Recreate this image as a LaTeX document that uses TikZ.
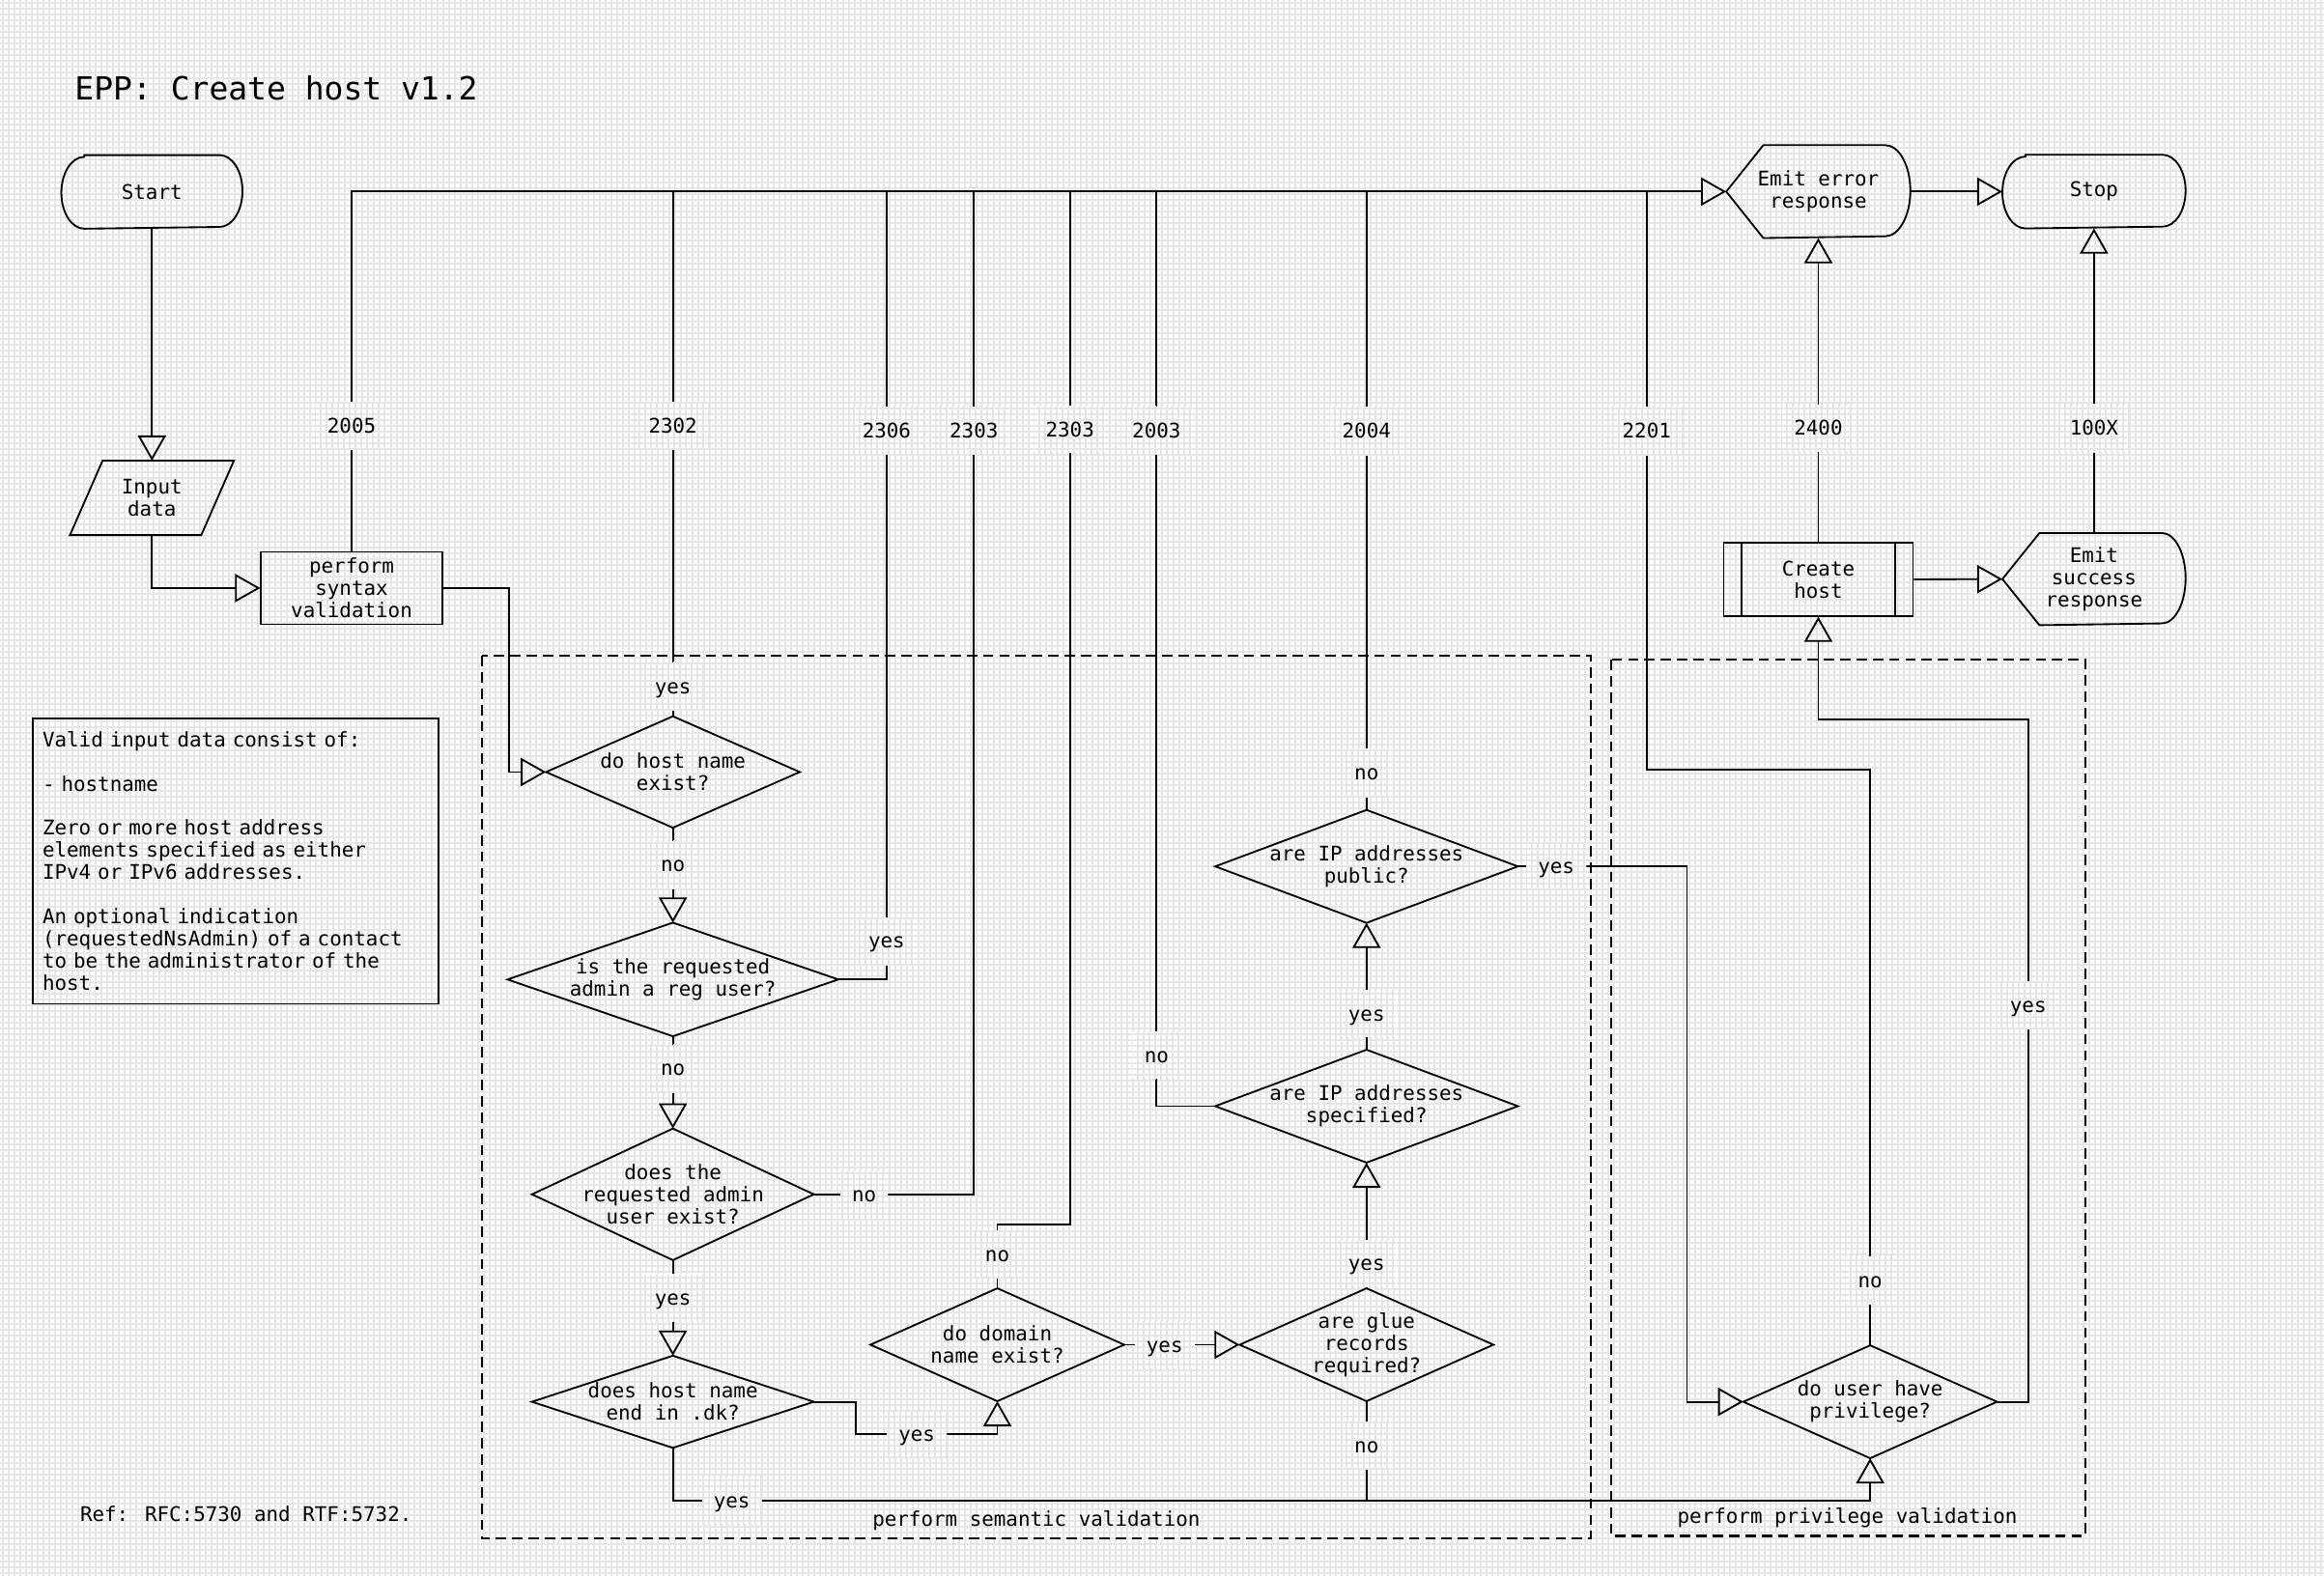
\documentclass[tikz,border=0pt]{standalone}
\usepackage{fontspec}
\newfontfamily\monof{DejaVu Sans Mono}
\usetikzlibrary{arrows.meta,patterns}
\definecolor{gridc}{HTML}{E6E6E6}
\pgfdeclarepatternformonly{bggrid}{\pgfqpoint{0pt}{0pt}}{\pgfqpoint{3.91pt}{3.91pt}}{\pgfqpoint{3.91pt}{3.91pt}}{%
  \pgfsetlinewidth{1.3pt}%
  \pgfpathmoveto{\pgfqpoint{0pt}{1.955pt}}\pgfpathlineto{\pgfqpoint{3.91pt}{1.955pt}}%
  \pgfpathmoveto{\pgfqpoint{1.955pt}{0pt}}\pgfpathlineto{\pgfqpoint{1.955pt}{3.91pt}}%
  \pgfusepath{stroke}}
\begin{document}
\begin{tikzpicture}[x=1pt, y=-1pt, line width=1.2pt,
  every node/.style={font=\monof\fontsize{13.6}{14.95}\selectfont},
  shp/.style={draw=none, inner sep=0pt, align=center},
  rectbox/.style={draw, inner sep=0pt, align=center},
  conn/.style={-{Triangle[open,length=17pt,width=19pt]}, line join=miter},
  lbl/.style={text height=12.9pt, text depth=3pt, inner xsep=8pt, inner ysep=8.2pt,
    preaction={fill=white}, pattern=bggrid, pattern color=gridc},
  dashbox/.style={dash pattern=on 7pt off 4pt, line width=1.35pt}]
% background
\fill[white] (0,0) rectangle (1568,1063);
\fill[pattern=bggrid, pattern color=gridc] (0,0) rectangle (1568,1063);
\useasboundingbox (0,0) rectangle (1568,1063);

% title and notes
\node[anchor=west, inner sep=0pt, font=\monof\fontsize{21.5}{24}\selectfont] (title) at (49.9,59.6) {EPP: Create host v1.2};
\node[anchor=west, inner sep=0pt] (ref) at (53.5,1021.4) {Ref: RFC:5730 and RTF:5732.};
\node[draw, anchor=north west, minimum width=273.9pt, minimum height=192.8pt, text width=260.3pt,
  inner xsep=6.8pt, inner ysep=0pt, align=left] (info) at (21.3,484)
  {Valid input data consist of:\\\mbox{}\\- hostname\\\mbox{}\\Zero or more host address\\elements specified as either\\IPv4 or IPv6 addresses.\\\mbox{}\\An optional indication\\(requestedNsAdmin) of a contact\\to be the administrator of the\\host.};

% dashed groups
\draw[dashbox] (325.2,442.6) rectangle (1073.6,1038.2);
\draw[dashbox] (1086.9,445.2) rectangle (1406.9,1036.5);
\node (semlbl) at (699.2,1026) {perform semantic validation};
\node (privlbl) at (1246.4,1024) {perform privilege validation};

% nodes
\node[shp, minimum width=121pt, minimum height=48.5pt] (start) at (102.5,129.5) {Start};
\node[shp, minimum width=109.4pt, minimum height=49pt] (inp) at (102.5,336) {Input\\data};
\node[rectbox, minimum width=122.1pt, minimum height=48.9pt] (syn) at (237.25,396.85) {perform\\syntax\\validation};
\node[shp, minimum width=170pt, minimum height=74pt] (d1) at (454,521) {do host name\\exist?};
\node[shp, minimum width=222pt, minimum height=75.5pt] (d2) at (454,661) {is the requested\\admin a reg user?};
\node[shp, minimum width=189pt, minimum height=87.6pt] (d3) at (454,806) {does the\\requested admin\\user exist?};
\node[shp, minimum width=189pt, minimum height=61pt] (d4) at (454,946) {does host name\\end in .dk?};
\node[shp, minimum width=170pt, minimum height=75pt] (d5) at (672.9,907.5) {do domain\\name exist?};
\node[shp, minimum width=170pt, minimum height=75pt] (d6) at (922,907.5) {are glue\\records\\required?};
\node[shp, minimum width=203pt, minimum height=75pt] (d7) at (922,746.5) {are IP addresses\\specified?};
\node[shp, minimum width=203pt, minimum height=75pt] (d9) at (922,584.7) {are IP addresses\\public?};
\node[shp, minimum width=170pt, minimum height=75pt] (d8) at (1261.8,946) {do user have\\privilege?};
\node[rectbox, minimum width=127.7pt, minimum height=49.2pt] (ch) at (1226.8,391) {Create\\host};
\node[shp, minimum width=123pt, minimum height=61.5pt] (err) at (1226.8,129.3) {Emit error\\response};
\node[shp, minimum width=122.4pt, minimum height=61pt] (suc) at (1412.8,390.8) {Emit\\success\\response};
\node[shp, minimum width=122.4pt, minimum height=48.5pt] (stop) at (1412.8,129.3) {Stop};

% outlines
\draw ([xshift=15.5pt]start.north west) -- ([xshift=-15.5pt]start.north east)
  arc[start angle=90,end angle=-90,x radius=15.5pt,y radius=24.25pt]
  -- ([xshift=15.5pt]start.south west)
  arc[start angle=270,end angle=90,x radius=15.5pt,y radius=24.25pt] -- cycle;
\draw ([xshift=15.5pt]stop.north west) -- ([xshift=-15.5pt]stop.north east)
  arc[start angle=90,end angle=-90,x radius=15.5pt,y radius=24.25pt]
  -- ([xshift=15.5pt]stop.south west)
  arc[start angle=270,end angle=90,x radius=15.5pt,y radius=24.25pt] -- cycle;
\draw[line join=miter] ([xshift=22pt]inp.north west) -- (inp.north east) -- ([xshift=-22pt]inp.south east) -- (inp.south west) -- cycle;
\draw[line join=miter] (err.west) -- ([xshift=25pt]err.north west) -- ([xshift=-17pt]err.north east)
  arc[start angle=90,end angle=-90,x radius=17pt,y radius=30.75pt]
  -- ([xshift=25pt]err.south west) -- cycle;
\draw[line join=miter] (suc.west) -- ([xshift=25pt]suc.north west) -- ([xshift=-16pt]suc.north east)
  arc[start angle=90,end angle=-90,x radius=16pt,y radius=30.5pt]
  -- ([xshift=25pt]suc.south west) -- cycle;
\draw ([xshift=12.7pt]ch.north west) -- ([xshift=12.7pt]ch.south west);
\draw ([xshift=-12.7pt]ch.north east) -- ([xshift=-12.7pt]ch.south east);
\foreach \n in {d1,d2,d3,d4,d5,d6,d7,d8,d9}
  \draw[line join=miter] (\n.north) -- (\n.east) -- (\n.south) -- (\n.west) -- cycle;

% junction and bend coordinates
\coordinate (j2302) at (454,129.3);
\coordinate (j2306) at (598.2,129.3);
\coordinate (j2303a) at (657.1,129.3);
\coordinate (j2303b) at (721.9,129.3);
\coordinate (j2003) at (780.3,129.3);
\coordinate (j2004) at (922,129.3);
\coordinate (j2201) at (1111,129.3);
\coordinate (ks) at (343.5,460);
\coordinate (k4r) at (577.5,968);
\coordinate (k4) at (700,1012.5);
\coordinate (k5) at (721.9,826.5);
\coordinate (k6) at (922,1012.5);
\coordinate (k9) at (1138.2,700);
\coordinate (k8) at (1111,519.4);
\coordinate (k8b) at (1368.4,485.6);

% connectors
\draw[conn] (start.south) -- (inp.north);
\draw[conn] (inp.south) |- (syn.west);
\draw[conn] (syn.north) |- (err.west);
\draw[conn] (syn.east) -| (ks) |- (d1.west);
\draw (d1.north) -- (j2302);
\draw[conn] (d1.south) -- (d2.north);
\draw (d2.east) -| (j2306);
\draw[conn] (d2.south) -- (d3.north);
\draw (d3.east) -| (j2303a);
\draw[conn] (d3.south) -- (d4.north);
\draw[conn] (d4.east) -| (k4r) -| (d5.south);
\draw[conn] (d4.south) |- (k4) -| (d8.south);
\draw (d5.north) |- (k5) -- (j2303b);
\draw[conn] (d5.east) -- (d6.west);
\draw[conn] (d6.north) -- (d7.south);
\draw (d6.south) -- (k6);
\draw[conn] (d7.north) -- (d9.south);
\draw (d7.west) -| (j2003);
\draw (d9.north) -- (j2004);
\draw[conn] (d9.east) -| (k9) |- (d8.west);
\draw (d8.north) |- (k8) -- (j2201);
\draw[conn] (d8.east) -| (k8b) -| (ch.south);
\draw[conn] (ch.north) -- (err.south);
\draw[conn] (ch.east) -- (suc.west);
\draw[conn] (err.east) -- (stop.west);
\draw[conn] (suc.north) -- (stop.south);

% connector labels
\node[lbl] (c2005) at (237.25,287.5) {2005};
\node[lbl] (c2302) at (454,287.5) {2302};
\node[lbl] (c2306) at (598.2,290.5) {2306};
\node[lbl] (c2303a) at (657.1,290.3) {2303};
\node[lbl] (c2303b) at (721.9,289.8) {2303};
\node[lbl] (c2003) at (780.3,290.3) {2003};
\node[lbl] (c2004) at (922,290.8) {2004};
\node[lbl] (c2201) at (1111,290.8) {2201};
\node[lbl] (c2400) at (1226.8,288.9) {2400};
\node[lbl] (c100x) at (1412.8,288.9) {100X};
\node[lbl] (y1) at (454,463) {yes};
\node[lbl] (n1) at (454,583.5) {no};
\node[lbl] (y2) at (598.2,635) {yes};
\node[lbl] (n2) at (454,721) {no};
\node[lbl] (n3) at (583,806) {no};
\node[lbl] (y3) at (454,876) {yes};
\node[lbl] (y4r) at (618.6,968) {yes};
\node[lbl] (y4b) at (493.8,1012.5) {yes};
\node[lbl] (n5) at (672.9,846.5) {no};
\node[lbl] (y5) at (785.8,907.5) {yes};
\node[lbl] (y6) at (922,852.6) {yes};
\node[lbl] (n6) at (922,975.4) {no};
\node[lbl] (n7) at (780.3,712) {no};
\node[lbl] (y7) at (922,684) {yes};
\node[lbl] (n9) at (922,521.5) {no};
\node[lbl] (y9) at (1050,584.7) {yes};
\node[lbl] (n8) at (1261.8,864) {no};
\node[lbl] (y8) at (1368.4,678.5) {yes};
\end{tikzpicture}
\end{document}
